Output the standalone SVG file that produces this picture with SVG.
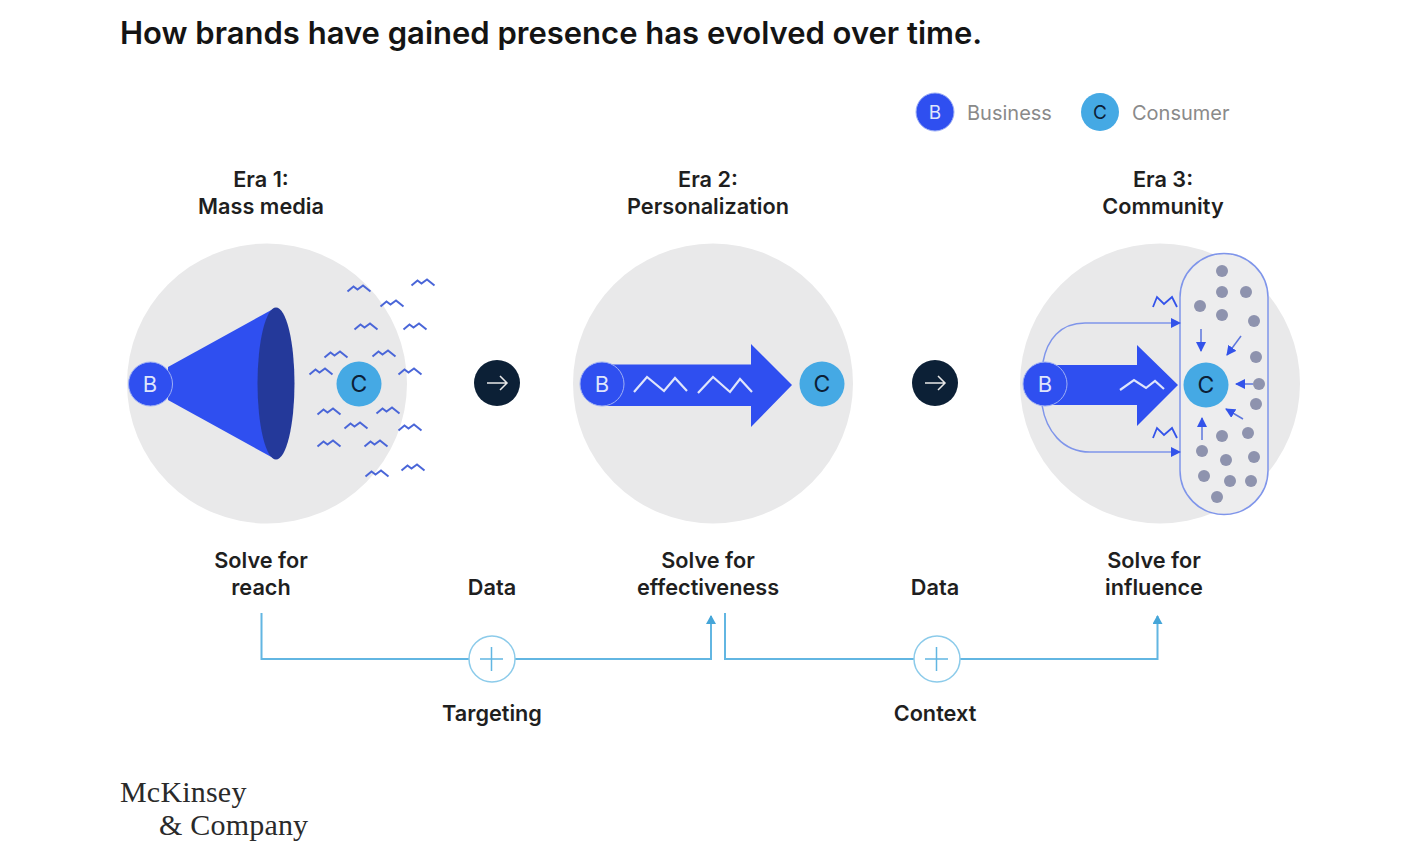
<svg xmlns="http://www.w3.org/2000/svg" width="1420" height="866" viewBox="0 0 1420 866">
<style>
text{font-family:Inter,"Liberation Sans",sans-serif}
.t{font-size:21.700px;font-weight:600;fill:#1f1f1f;text-anchor:middle}
.leg{font-size:20px;font-weight:400;fill:#8a8a8a}
.bg{fill:#e9e9ea}
.b{fill:#2f4ff0;stroke:#9fb0f5;stroke-width:1}
.c{fill:#45a9e4}
.bl{font-size:22px;fill:#dfe5fb;text-anchor:middle}
.cl{font-size:23px;fill:#0c2036;text-anchor:middle}
.sq{fill:none;stroke:#4a66d8;stroke-width:2}
.dot{fill:#8e93ae}
.flow{fill:none;stroke:#62b6e2;stroke-width:2}
.thin{fill:none;stroke:#7f95ea;stroke-width:1.500}
.ar{fill:none;stroke:#5d76dd;stroke-width:1.500}
.zz{fill:none;stroke:#dfe5fb;stroke-width:2.200}
.logo{font-family:"Liberation Serif",serif;font-size:30px;fill:#2a2a2a;letter-spacing:.2px}
</style>
<defs>
<path id="s" class="sq" d="M-11.500 3.500L-5.500-1.500L-1.500 1.500L4-2.500L11.500 3.500"/>
<marker id="tip" markerWidth="10" markerHeight="10" refX="9" refY="5" orient="auto" markerUnits="userSpaceOnUse"><path d="M0 0L10 5L0 10Z" fill="#3353ea"/></marker>
<marker id="ftip" markerWidth="9" markerHeight="10" refX="8" refY="5" orient="auto" markerUnits="userSpaceOnUse"><path d="M0 0L9 5L0 10Z" fill="#45a5d8"/></marker>
</defs>
<text id="title" x="120" y="44" style="font-size:31px;font-weight:600;fill:#141414">How brands have gained presence has evolved over time.</text>
<g id="legend-business"><circle class="b" cx="935" cy="112" r="19"/><text class="bl" x="935" y="119" style="font-size:19px">B</text><text class="leg" x="967" y="120">Business</text></g>
<g id="legend-consumer"><circle class="c" cx="1100" cy="112" r="19"/><text class="cl" x="1100" y="119" style="font-size:19px">C</text><text class="leg" x="1132" y="120">Consumer</text></g>

<g id="era1">
<text class="t" x="261" y="187">Era 1:</text><text class="t" x="261" y="214">Mass media</text>
<circle class="bg" cx="267" cy="383.500" r="140"/>
<path d="M168 367L275 308L275 459L168 400Z" fill="#2f4ff0"/>
<ellipse cx="276" cy="383.500" rx="18.500" ry="76" fill="#24399a"/>
<circle class="b" cx="150.500" cy="384" r="22"/><text class="bl" x="150" y="392">B</text>
<circle class="c" cx="359" cy="384" r="22.500"/><text class="cl" x="359" y="392">C</text>
<g id="squiggles">
<use href="#s" x="359" y="288"/><use href="#s" x="423" y="282"/><use href="#s" x="392" y="303"/><use href="#s" x="366" y="326"/><use href="#s" x="415" y="326"/><use href="#s" x="336" y="354"/><use href="#s" x="384" y="353"/><use href="#s" x="321" y="371"/><use href="#s" x="410" y="371"/><use href="#s" x="329" y="411"/><use href="#s" x="388" y="410"/><use href="#s" x="356" y="425"/><use href="#s" x="410" y="427"/><use href="#s" x="329" y="443"/><use href="#s" x="376" y="443"/><use href="#s" x="377" y="473"/><use href="#s" x="413" y="467"/>
</g>
<text class="t" x="261" y="568">Solve for</text><text class="t" x="261" y="595">reach</text>
</g>

<g id="next1"><circle cx="497" cy="383" r="23" fill="#0c2036"/><path d="M487 383H507M500 376L507 383L500 390" fill="none" stroke="#e8e8e8" stroke-width="1.500"/></g>
<text id="data1" class="t" x="492" y="595">Data</text>

<g id="era2">
<text class="t" x="708" y="187">Era 2:</text><text class="t" x="708" y="214">Personalization</text>
<circle class="bg" cx="713" cy="383.500" r="140"/>
<path d="M601 364.500H751V344L792 385L751 427V406H601Z" fill="#2f4ff0"/>
<circle class="b" cx="602" cy="384" r="22"/><text class="bl" x="602" y="392">B</text>
<path class="zz" d="M634 392L647 377L664 391L675 378L687 391"/><path class="zz" d="M698 393L713 377L730 392L740 379L752 392"/>
<circle class="c" cx="822" cy="384" r="22.500"/><text class="cl" x="822" y="392">C</text>
<text class="t" x="708" y="568">Solve for</text><text class="t" x="708" y="595">effectiveness</text>
</g>

<g id="next2"><circle cx="935" cy="383" r="23" fill="#0c2036"/><path d="M925 383H945M938 376L945 383L938 390" fill="none" stroke="#e8e8e8" stroke-width="1.500"/></g>
<text id="data2" class="t" x="935" y="595">Data</text>

<g id="era3">
<text class="t" x="1163" y="187">Era 3:</text><text class="t" x="1163" y="214">Community</text>
<circle class="bg" cx="1160" cy="383.500" r="140"/>
<rect x="1180" y="253.500" width="88" height="261" rx="44" fill="#ededee" stroke="#7f95ea" stroke-width="1.500"/>
<path class="thin" d="M1043 362C1047 340 1060 323 1085 323H1180" marker-end="url(#tip)"/>
<path class="thin" d="M1042 405C1046 430 1062 452 1090 452H1180" marker-end="url(#tip)"/>
<path d="M1045 365H1137V345L1178 385L1137 426V405H1045Z" fill="#2f4ff0"/>
<circle class="b" cx="1045" cy="384" r="22"/><text class="bl" x="1045" y="392">B</text>
<path class="zz" d="M1120 390L1134 380L1146 388L1155 381L1164 389"/>
<path d="M1153 307L1157 297L1164 304L1172 297L1177 307" fill="none" stroke="#3353ea" stroke-width="1.800"/>
<path d="M1153 438L1157 428L1164 435L1172 428L1177 438" fill="none" stroke="#3353ea" stroke-width="1.800"/>
<circle class="c" cx="1206" cy="385" r="22.500"/><text class="cl" x="1206" y="393">C</text>
<g id="dots" class="dot">
<circle cx="1222" cy="271" r="6"/><circle cx="1222" cy="292" r="6"/><circle cx="1246" cy="292" r="6"/><circle cx="1200" cy="306" r="6"/><circle cx="1222" cy="315" r="6"/><circle cx="1254" cy="321" r="6"/><circle cx="1256" cy="357" r="6"/><circle cx="1259" cy="384" r="6"/><circle cx="1256" cy="404" r="6"/><circle cx="1248" cy="433" r="6"/><circle cx="1222" cy="436" r="6"/><circle cx="1202" cy="451" r="6"/><circle cx="1226" cy="460" r="6"/><circle cx="1254" cy="457" r="6"/><circle cx="1204" cy="476" r="6"/><circle cx="1230" cy="481" r="6"/><circle cx="1251" cy="481" r="6"/><circle cx="1217" cy="497" r="6"/>
</g>
<g id="pull" class="ar">
<path d="M1201 329V351" marker-end="url(#tip)"/><path d="M1241 336L1227 355" marker-end="url(#tip)"/><path d="M1253 384H1236" marker-end="url(#tip)"/><path d="M1243 419L1226 409" marker-end="url(#tip)"/><path d="M1202 440V418" marker-end="url(#tip)"/>
</g>
<text class="t" x="1154" y="568">Solve for</text><text class="t" x="1154" y="595">influence</text>
</g>

<g id="connectors">
<path class="flow" d="M261.500 613V659H711V616" marker-end="url(#ftip)"/>
<path class="flow" d="M725 613V659H1157.500V616" marker-end="url(#ftip)"/>
</g>
<g id="plus1"><circle cx="492" cy="659" r="23" fill="#fff" stroke="#8ccbea" stroke-width="1.500"/><path d="M480 659H503M491.500 647V671" class="flow" style="stroke-width:1.500"/></g>
<g id="plus2"><circle cx="937" cy="659" r="23" fill="#fff" stroke="#8ccbea" stroke-width="1.500"/><path d="M925 659H948M936.500 647V671" class="flow" style="stroke-width:1.500"/></g>
<text id="targeting" class="t" x="492" y="721">Targeting</text>
<text id="context" class="t" x="935" y="721">Context</text>
<g id="logo"><text class="logo" x="120" y="802">McKinsey</text><text class="logo" x="159" y="835">&amp; Company</text></g>
</svg>
